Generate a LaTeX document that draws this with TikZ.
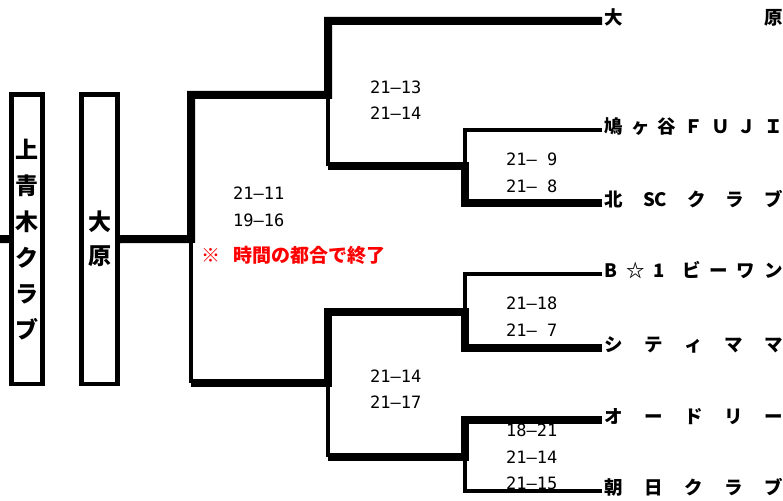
\documentclass[tikz,border=0pt]{standalone}
\usepackage{fontspec}
\setmainfont{Noto Sans CJK JP}
\newfontfamily\scorefont{DejaVu Sans Mono}
\usepackage{tikz}

\begin{document}
\begin{tikzpicture}
  [x=1pt, y=-1pt,
    team/.style={anchor=west, inner ysep=0pt, inner xsep=2.5pt,
      font=\fontsize{18.5}{20}\selectfont\bfseries,
      text height=0.88em, text depth=0.12em},
    score/.style={anchor=west, inner sep=0pt, align=left,
      font=\fontsize{17}{26.5}\selectfont\scorefont},
    namebox/.style={draw=black, line width=4.5pt, inner sep=0pt,
      align=center, minimum height=289.5pt},
    win/.style={line width=8pt},
    lose/.style={line width=3.5pt}
  ]
  \useasboundingbox (0,0) rectangle (783,500);

  % winners on the left
  \node (kami)  at (27,239.25)  [namebox, minimum width=31pt,
    font=\fontsize{23}{36}\selectfont\bfseries] {上\\青\\木\\ク\\ラ\\ブ};
  \node (ohara) at (99.5,239.25) [namebox, minimum width=36pt,
    font=\fontsize{23}{34}\selectfont\bfseries] {大\\原};
  \coordinate (edge) at (0,239);

  % teams on the right
  \node (t1) at (602,21)  [team] {\makebox[178pt]{大\hfill 原}};
  \node (t2) at (602,130) [team] {\makebox[178pt]{鳩\hfill ヶ\hfill 谷\hfill Ｆ\hfill Ｕ\hfill Ｊ\hfill Ｉ}};
  \node (t3) at (602,203) [team] {\makebox[178pt]{北\hfill SC\hfill ク\hfill ラ\hfill ブ}};
  \node (t4) at (602,274) [team] {\makebox[178pt]{B\hfill ☆\hfill 1\hfill\hfill ビ\hfill ー\hfill ワ\hfill ン}};
  \node (t5) at (602,348) [team] {\makebox[178pt]{シ\hfill テ\hfill ィ\hfill マ\hfill マ}};
  \node (t6) at (602,420) [team] {\makebox[178pt]{オ\hfill ー\hfill ド\hfill リ\hfill ー}};
  \node (t7) at (602,491) [team] {\makebox[178pt]{朝\hfill 日\hfill ク\hfill ラ\hfill ブ}};

  \coordinate (fin)   at (191,239);
  \coordinate (fin-t) at (191,95);
  \coordinate (fin-b) at (191,383);
  \coordinate (sfa-t) at (328,21);
  \coordinate (sfa)   at (328,95);
  \coordinate (sfa-b) at (328,166);
  \coordinate (sfb-t) at (328,312);
  \coordinate (sfb)   at (328,383);
  \coordinate (sfb-b) at (328,457);
  \coordinate (ra-t)  at (465,130);
  \coordinate (ra)    at (465,166);
  \coordinate (ra-b)  at (465,203);
  \coordinate (rb-t)  at (465,274);
  \coordinate (rb)    at (465,312);
  \coordinate (rb-b)  at (465,348);
  \coordinate (rc-t)  at (465,420);
  \coordinate (rc)    at (465,457);
  \coordinate (rc-b)  at (465,491);

  \draw [win] (t1.west) -- (sfa-t) -- (sfa) -- (fin-t) -- (fin) -- (ohara.east);
  \draw [win] (kami.west) -- (edge);
  \draw [win] (t3.west) -- (ra-b) -- (ra) -- (sfa-b);
  \draw [win] (t5.west) -- (rb-b) -- (rb) -- (sfb-t) -- (sfb) -- (fin-b);
  \draw [win] (t6.west) -- (rc-t) -- (rc) -- (sfb-b);
  \draw [lose] (t2.west) -- (ra-t) -- (ra);
  \draw [lose] (t4.west) -- (rb-t) -- (rb);
  \draw [lose] (t7.west) -- (rc-b) -- (rc);
  \draw [lose] (sfa) -- (sfa-b);
  \draw [lose] (sfb) -- (sfb-b);
  \draw [lose] (fin) -- (fin-b);

  % scores
  \node (sc-fin) at (233,206.75) [score] {21–11\\19–16};
  \node (sc-sfa) at (370,100)    [score] {21–13\\21–14};
  \node (sc-ra)  at (506,172.75) [score] {21– 9\\21– 8};
  \node (sc-rb)  at (506,316.75) [score] {21–18\\21– 7};
  \node (sc-sfb) at (370,389)    [score] {21–14\\21–17};
  \node (sc-rc)  at (506,457.25) [score] {18–21\\21–14\\21–15};

  \node (note) at (201,255.5) [anchor=west, inner sep=0pt, text=red,
    font=\fontsize{19}{20}\selectfont\bfseries] {※\hspace{13pt}時間の都合で終了};
\end{tikzpicture}
\end{document}
